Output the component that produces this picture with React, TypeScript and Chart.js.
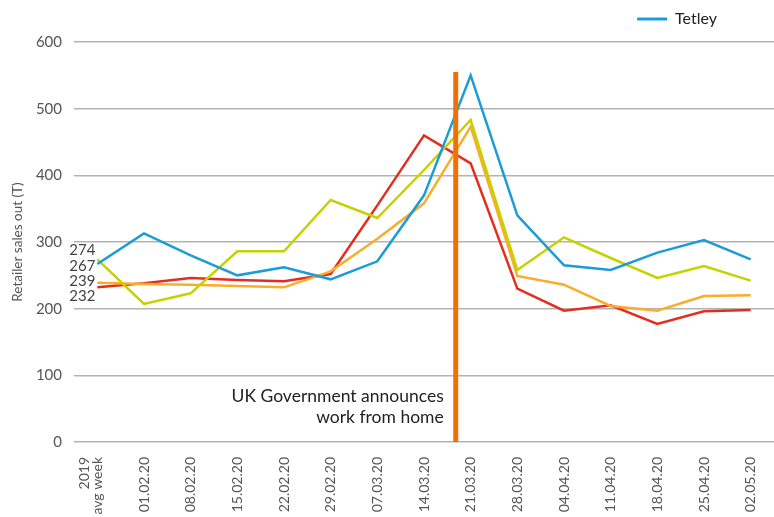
import React, { useEffect, useRef } from "react";
import { Chart, registerables } from "chart.js";

Chart.register(...registerables);

const FONT = "Lato, 'Open Sans', sans-serif";

const categories: (string | string[])[] = [
  ["2019", "avg week"],
  "01.02.20",
  "08.02.20",
  "15.02.20",
  "22.02.20",
  "29.02.20",
  "07.03.20",
  "14.03.20",
  "21.03.20",
  "28.03.20",
  "04.04.20",
  "11.04.20",
  "18.04.20",
  "25.04.20",
  "02.05.20",
];

const tetley = [267, 313, 280, 250, 262, 244, 271, 370, 550, 340, 265, 258, 284, 303, 274];
const limeSeries = [274, 207, 223, 286, 286, 363, 336, 408, 483, 258, 307, 276, 246, 264, 242];
const redSeries = [232, 238, 246, 243, 241, 252, 355, 460, 418, 230, 197, 205, 177, 196, 198];
const orangeSeries = [239, 237, 236, 234, 232, 256, 305, 358, 473, 249, 236, 204, 197, 219, 220];

const yTicks = { min: 0, max: 600, step: 100 };

const announceIndex = 7.68;
const announceTop = 555;
const announceText = ["UK Government announces", "work from home"];
const announceTextValue = 68;

const annotationPlugin = {
  id: "annotations",
  afterDatasetsDraw(chart: any) {
    const { ctx, scales } = chart;
    const x = scales.x;
    const y = scales.y;
    const i0 = Math.floor(announceIndex);
    const x0 = x.getPixelForValue(i0);
    const x1 = x.getPixelForValue(i0 + 1);
    const px = x0 + (x1 - x0) * (announceIndex - i0);
    ctx.save();
    ctx.strokeStyle = "#ee7203";
    ctx.lineWidth = 5;
    ctx.lineCap = "butt";
    ctx.beginPath();
    ctx.moveTo(px, y.getPixelForValue(0));
    ctx.lineTo(px, y.getPixelForValue(announceTop));
    ctx.stroke();

    ctx.fillStyle = "#222";
    ctx.font = `17.5px ${FONT}`;
    ctx.textAlign = "right";
    ctx.textBaseline = "middle";
    const ty = y.getPixelForValue(announceTextValue);
    announceText.forEach((t, k) => ctx.fillText(t, px - 12, ty + k * 21));

    // start value labels
    const starts = chart.data.datasets
      .map((d: any) => d.data[0] as number)
      .sort((a: number, b: number) => b - a);
    const mean = starts.reduce((a: number, b: number) => a + b, 0) / starts.length;
    const cy = y.getPixelForValue(mean);
    const sx = x.getPixelForValue(0) - 2;
    ctx.fillStyle = "#444";
    ctx.font = `15px ${FONT}`;
    starts.forEach((v: number, k: number) => {
      ctx.fillText(String(v), sx, cy + (k - (starts.length - 1) / 2) * 15.3);
    });
    ctx.restore();
  },
};

const legendAdjustPlugin = {
  id: "legendAdjust",
  afterInit(chart: any) {
    const lg = chart.legend;
    if (lg && !lg.__patched) {
      const fit = lg.fit.bind(lg);
      lg.fit = function () {
        fit();
        this.height += 5;
      };
      lg.__patched = true;
    }
  },
  afterLayout(chart: any) {
    if (chart.legend) chart.legend.right -= 49;
  },
};

const xLabelShiftPlugin = {
  id: "xLabelShift",
  beforeDraw(chart: any) {
    const s = chart.scales.x;
    const items = s.getLabelItems();
    items.forEach((it: any) => {
      if (Array.isArray(it.label) && !it.__shifted) {
        it.textOffset -= it.font.lineHeight * (it.label.length - 1);
        it.__shifted = true;
      }
    });
  },
};

export default function App() {
  const ref = useRef<HTMLCanvasElement | null>(null);

  useEffect(() => {
    document.body.style.margin = "0";
    if (!ref.current) return;
    const chart = new Chart(ref.current, {
      type: "line",
      data: {
        labels: categories,
        datasets: [
          { label: "Tetley", data: tetley, borderColor: "#1a9cd8", backgroundColor: "#1a9cd8", order: 1 },
          { label: "Series 2", data: limeSeries, borderColor: "#c5d200", backgroundColor: "#c5d200", order: 2 },
          { label: "Series 3", data: orangeSeries, borderColor: "#fbac2c", backgroundColor: "#fbac2c", order: 3 },
          { label: "Series 4", data: redSeries, borderColor: "#e52d1f", backgroundColor: "#e52d1f", order: 4 },
        ].map((d) => ({ ...d, borderWidth: 2.5, pointRadius: 0, tension: 0, fill: false })),
      },
      options: {
        animation: false,
        responsive: true,
        maintainAspectRatio: false,
        layout: { padding: { left: 0, top: 0, bottom: 0, right: -3 } },
        plugins: {
          tooltip: { enabled: false },
          legend: {
            display: true,
            position: "top",
            align: "end",
            labels: {
              boxWidth: 30,
              boxHeight: 3,
              padding: 11,
              color: "#222",
              font: { size: 16, family: FONT },
              filter: (item: any) => item.datasetIndex === 0,
              generateLabels: (c: any) =>
                Chart.defaults.plugins.legend.labels
                  .generateLabels(c)
                  .map((l: any) => ({ ...l, lineWidth: 0 })),
            },
          },
        },
        scales: {
          x: {
            offset: true,
            grid: { display: false },
            border: { display: false },
            ticks: {
              autoSkip: false,
              maxRotation: 90,
              minRotation: 90,
              padding: 7,
              color: "#555",
              font: { size: 14, family: FONT, lineHeight: 0.9 },
            },
            afterFit: (s: any) => {
              s.height = 75;
              s.paddingLeft = 0;
              s.paddingRight = 0;
            },
          },
          y: {
            min: yTicks.min,
            max: yTicks.max,
            ticks: {
              stepSize: yTicks.step,
              padding: 12,
              color: "#555",
              font: { size: 15, family: FONT },
            },
            grid: { color: "#b3b3b3", lineWidth: 1.5, drawTicks: false },
            border: { display: false },
            title: {
              display: true,
              text: "Retailer sales out (T)",
              color: "#555",
              font: { size: 13.5, family: FONT },
              padding: { top: 10, bottom: 0 },
            },
            afterFit: (s: any) => {
              s.width = 74;
            },
          },
        },
      },
      plugins: [annotationPlugin, legendAdjustPlugin, xLabelShiftPlugin],
    });
    return () => chart.destroy();
  }, []);

  return (
    <div style={{ position: "relative", width: 774, height: 517 }}>
      <canvas ref={ref} />
    </div>
  );
}
